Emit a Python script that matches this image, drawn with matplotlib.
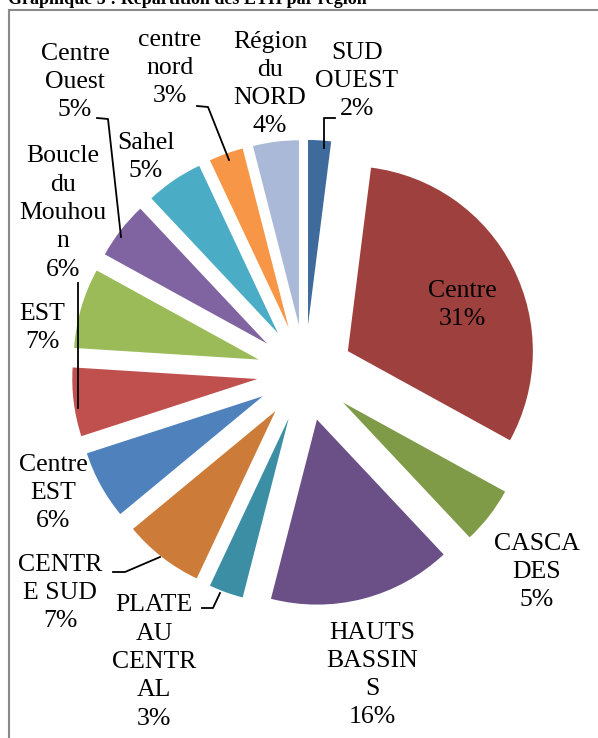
import matplotlib
matplotlib.use("Agg")
import matplotlib.pyplot as plt
from matplotlib.lines import Line2D

# data, clockwise from 12 o'clock
regions = ["SUD\nOUEST", "Centre", "CASCA\nDES", "HAUTS\nBASSIN\nS", "PLATE\nAU\nCENTR\nAL",
           "CENTR\nE SUD", "Centre\nEST", "Boucle\ndu\nMouhou\nn", "EST", "Centre\nOuest",
           "Sahel", "centre\nnord", "Région\ndu\nNORD"]
shares = [2, 31, 5, 16, 3, 7, 6, 6, 7, 5, 5, 3, 4]
colors = ["#3F6A9C", "#9E413E", "#7F9B48", "#6A5086", "#3C8EA4", "#CD7B39", "#4F81BD",
          "#C0504D", "#9BBB59", "#8064A2", "#4BACC6", "#F79646", "#AAB9D7"]

W, H = 598, 738
CX, CY, R = 305, 373, 185  # pie centre / radius in pixels


def px(x, y):
    """pixel (top-left origin) -> data coords"""
    return (x - CX) / R, (CY - y) / R


# label centres (pixels)
label_pos = [(357, 81), (462, 305), (537, 572), (372, 675), (154, 662), (60, 593),
             (53, 493), (63, 213), (42, 328), (75, 82), (146, 157), (170, 68), (270, 84)]

# leader lines (pixels)
leaders = [
    [(335, 118), (324, 118), (324, 148)],
    [(113, 572), (125, 572), (160, 557)],
    [(202, 608), (213, 608), (220, 593)],
    [(78, 283), (78, 408)],
    [(97, 118), (108, 119), (121, 237)],
    [(197, 106), (208, 107), (229, 160)],
]

plt.rcParams["font.family"] = ["Liberation Serif", "DejaVu Serif"]

fig = plt.figure(figsize=(W / 100, H / 100), dpi=100)
ax = fig.add_axes([0, 0, 1, 1])
ax.axis("off")

ax.pie(shares, colors=colors, explode=[0.26] * len(shares), startangle=90,
       counterclock=False, radius=1, center=(0, 0),
       wedgeprops=dict(linewidth=0))
ax.set_aspect("equal")
ax.set_xlim(-CX / R, (W - CX) / R)
ax.set_ylim(-(H - CY) / R, CY / R)

for name, v, (lx, ly) in zip(regions, shares, label_pos):
    x, y = px(lx, ly)
    ax.text(x, y, f"{name}\n{v}%", ha="center", va="center", fontsize=18.5,
            linespacing=1.37, color="black")

for pts in leaders:
    xs, ys = zip(*[px(a, b) for a, b in pts])
    ax.add_line(Line2D(xs, ys, color="black", lw=1.3))

# frame of the chart area (only left and top edges visible)
fig.add_artist(Line2D([9 / W, 9 / W], [0, 1 - 10 / H], transform=fig.transFigure,
                      color="#8a8a8a", lw=1.5))
fig.add_artist(Line2D([9 / W, 1], [1 - 10 / H, 1 - 10 / H], transform=fig.transFigure,
                      color="#8a8a8a", lw=1.5))

fig.text(8 / W, 1 - 4 / H, "Graphique 5 : Répartition des ETH par région",
         fontsize=13, fontweight="bold", ha="left", va="baseline")

fig.savefig("out.png", dpi=100)
